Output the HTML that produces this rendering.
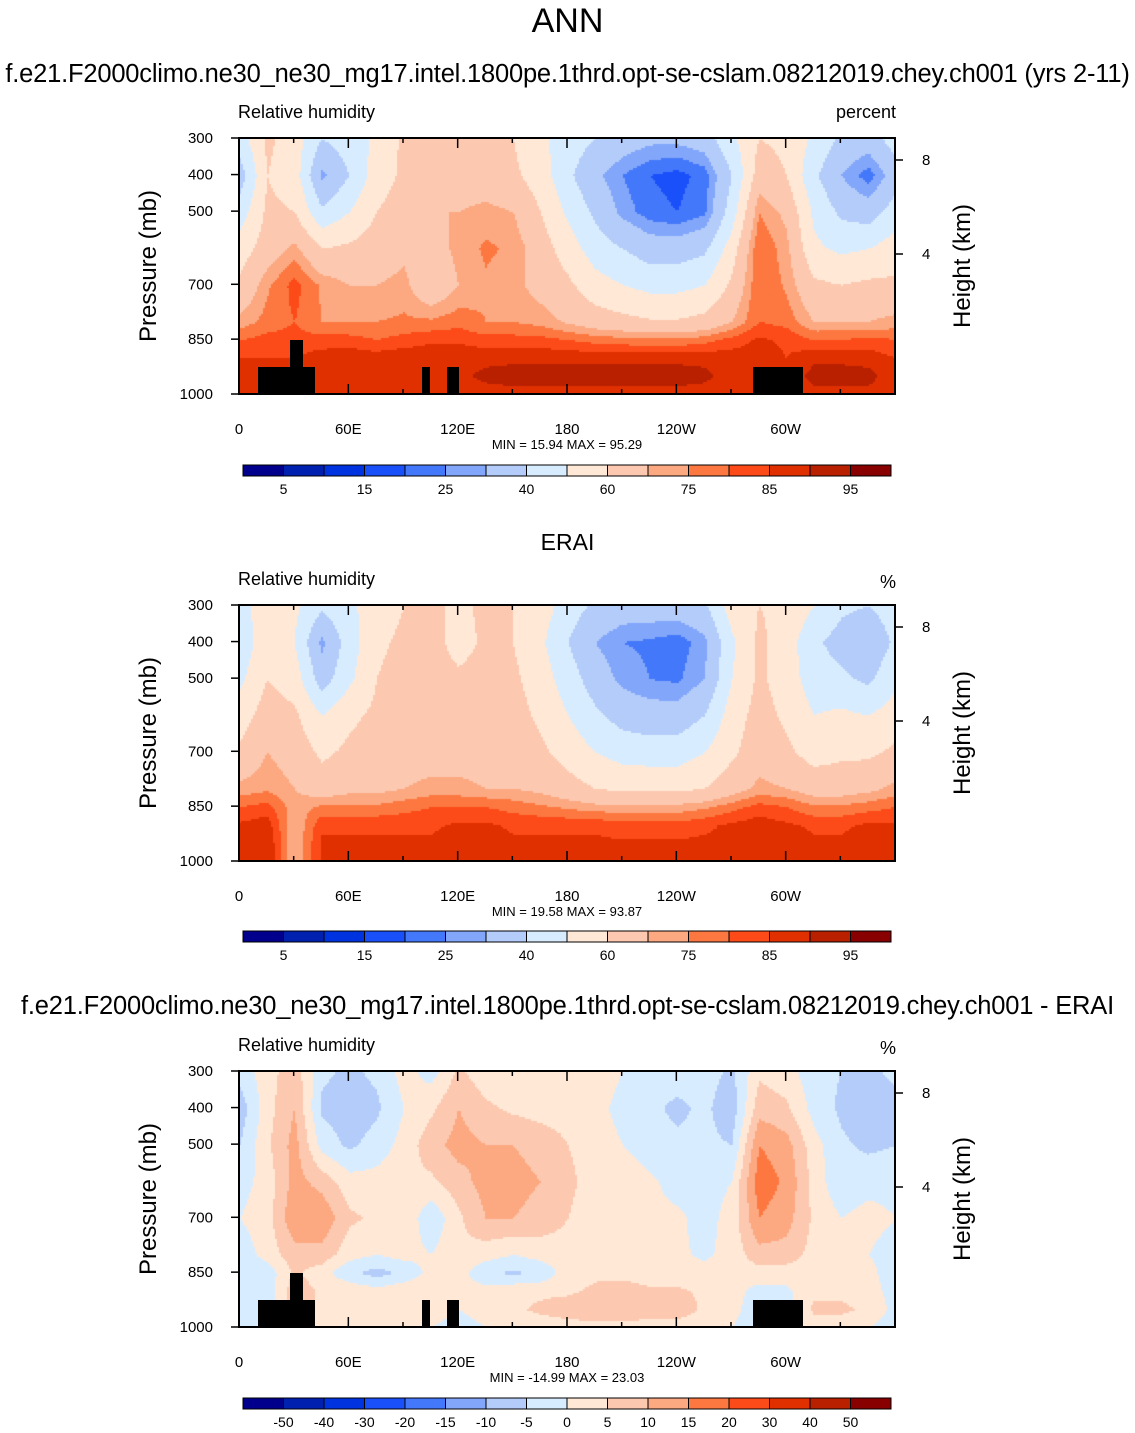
<!DOCTYPE html>
<html><head><meta charset="utf-8">
<style>
body{margin:0;background:#fff;font-family:"Liberation Sans",sans-serif;}
#root{position:relative;width:1135px;height:1433px;overflow:hidden;}
.t{position:absolute;white-space:nowrap;color:#000;}
canvas{position:absolute;}
</style></head>
<body>
<div id="root">
<div class="t" style="left:0;width:1135px;text-align:center;top:2px;font-size:34px">ANN</div>
<div class="t" style="left:0;width:1135px;text-align:center;top:60px;font-size:25.5px;letter-spacing:-0.2px">f.e21.F2000climo.ne30_ne30_mg17.intel.1800pe.1thrd.opt-se-cslam.08212019.chey.ch001 (yrs 2-11)</div>
<div class="t" style="left:0;width:1135px;text-align:center;top:529px;font-size:23px">ERAI</div>
<div class="t" style="left:0;width:1135px;text-align:center;top:992px;font-size:25.5px;letter-spacing:-0.2px">f.e21.F2000climo.ne30_ne30_mg17.intel.1800pe.1thrd.opt-se-cslam.08212019.chey.ch001 - ERAI</div>
<svg id="svg" width="1135" height="1433" style="position:absolute;left:0;top:0"></svg>
</div>
<script>
// ---- data ----
const lons=[0,15,30,45,60,75,90,105,120,135,150,165,180,195,210,225,240,255,270,285,300,315,330,345,360];
const plevs=[300,400,500,600,700,800,850,900,950,1000];
const levelsRH=[5,10,15,20,25,30,40,50,60,70,75,80,85,90,95];
const levelsDiff=[-50,-40,-30,-20,-15,-10,-5,0,5,10,15,20,30,40,50];
const labelsRH=["5","15","25","40","60","75","85","95"];
const labelsDiff=["-50","-40","-30","-20","-15","-10","-5","0","5","10","15","20","30","40","50"];
const colors=["#00008c","#0020b0","#0033e0","#1a50fa","#4478fa","#82a6fa","#b4ccfa","#d8ecff","#ffe8d6","#fcc8b0","#fca880","#fc7840","#fc4a18","#e03000","#b82000","#880000"];
// rows = pressure levels, columns = longitudes
const modelRH=[
[45,62,55,40,45,52,62,60,62,62,60,52,45,40,35,32,32,35,48,60,58,48,38,35,45],
[35,60,55,28,40,55,62,65,65,65,62,55,42,32,25,20,18,22,40,65,60,42,30,22,35],
[45,62,60,42,50,60,65,70,70,72,70,60,48,38,28,22,20,24,45,75,68,48,38,35,45],
[55,65,72,60,62,65,68,66,72,76,74,65,55,45,40,35,35,38,55,80,72,52,48,50,55],
[62,74,82,74,70,70,72,62,70,74,72,67,62,54,50,47,47,50,62,80,74,62,60,62,62],
[72,77,80,75,75,75,76,76,78,75,75,73,69,65,63,61,61,63,70,80,78,70,70,70,72],
[80,82,82,82,82,80,82,84,84,82,82,82,80,78,77,76,76,78,82,86,84,80,80,82,80],
[85,85,85,88,89,88,89,89,89,89,89,89,89,89,89,89,89,89,88,88,85,89,89,88,85],
[86,86,86,90,90,89,89,89,89,91,92,92,92,92,92,92,92,91,88,88,86,92,92,92,86],
[85,85,85,88,88,86,86,86,86,88,88,88,88,88,88,88,88,88,86,86,85,88,88,88,85]];
const eraRH=[
[45,58,52,42,48,55,60,62,58,62,60,55,45,38,35,35,35,38,55,60,58,50,42,40,45],
[42,58,50,28,45,58,62,64,56,62,60,52,40,30,25,24,22,28,48,62,55,42,36,32,42],
[48,60,55,35,48,60,64,65,62,64,62,55,45,35,28,25,24,30,50,62,55,45,42,38,48],
[55,65,62,50,58,62,65,66,66,66,64,58,50,42,36,34,34,40,55,64,58,50,52,50,55],
[62,70,66,58,62,64,66,66,66,66,66,62,56,50,46,45,45,50,58,66,62,56,58,58,62],
[72,74,70,65,68,68,70,72,72,70,70,68,64,60,58,58,58,60,66,72,70,66,66,68,72],
[80,82,72,76,76,76,78,80,80,80,78,76,74,72,72,72,72,74,78,82,80,76,76,78,80],
[86,88,70,84,84,84,84,84,86,86,84,84,84,84,82,82,82,84,86,88,86,84,84,86,86],
[88,90,70,86,86,86,86,86,88,88,86,86,86,86,86,86,86,86,86,90,88,86,86,88,88],
[88,90,70,86,86,86,86,86,88,88,86,86,86,86,86,86,86,86,86,90,88,86,86,88,88]];
const diffRH=[
[-3,3,8,-4,-6,-4,2,-2,6,2,2,0,2,3,0,-3,-3,-3,-6,4,2,-3,-5,-7,-3],
[-8,3,10,-6,-8,-6,0,4,10,6,4,3,3,2,-2,-4,-6,-4,-8,8,6,-2,-6,-10,-8],
[-5,4,12,-2,-6,-3,2,8,12,10,10,8,5,3,0,-3,-4,-4,-5,15,12,2,-4,-6,-5],
[-2,2,12,8,2,2,4,4,8,12,12,10,6,3,4,1,-2,-2,0,18,14,3,-4,-2,-2],
[0,3,14,14,6,4,4,-4,4,10,10,8,5,3,2,1,1,-2,2,15,12,4,0,2,0],
[-3,2,8,8,2,0,2,0,4,2,0,2,3,2,2,1,1,-1,2,8,8,3,2,0,-3],
[-4,-3,6,2,-4,-7,-4,2,2,-4,-6,-4,3,4,3,2,2,2,2,3,2,2,2,2,-4],
[-2,-3,8,4,4,2,4,4,2,2,4,4,4,6,8,6,6,4,2,-2,-1,4,4,2,-2],
[-2,-4,8,4,4,2,2,2,0,2,4,6,8,10,10,8,8,4,2,-4,-2,6,6,4,-2],
[-3,-5,8,2,2,0,0,0,-2,0,2,2,2,2,2,2,2,2,0,-4,-3,2,2,0,-3]];

// ---- drawing ----
const X0=239,X1=895;
const panels=[{top:138,data:modelRH,levels:levelsRH,labels:labelsRH,minmax:"MIN =  15.94   MAX =  95.29",unit:"percent",cb:465,topo:true},
{top:605,data:eraRH,levels:levelsRH,labels:labelsRH,minmax:"MIN =  19.58   MAX =  93.87",unit:"%",cb:931,topo:false},
{top:1071,data:diffRH,levels:levelsDiff,labels:labelsDiff,minmax:"MIN = -14.99   MAX =  23.03",unit:"%",cb:1398,topo:true}];
const H=256;
const svg=document.getElementById('svg');
const root=document.getElementById('root');
const NS="http://www.w3.org/2000/svg";
function el(tag,attrs,parent){const e=document.createElementNS(NS,tag);for(const k in attrs)e.setAttribute(k,attrs[k]);(parent||svg).appendChild(e);return e;}
function xOf(lon){return X0+(lon/360)*(X1-X0);}
function colorFor(v,levels){let i=0;while(i<levels.length&&v>=levels[i])i++;return colors[i];}
function sample(data,lon,p){
  let i=Math.min(Math.floor(lon/15),23);const fx=(lon-lons[i])/15;
  let j=0;while(j<plevs.length-2&&p>plevs[j+1])j++;
  const fy=(p-plevs[j])/(plevs[j+1]-plevs[j]);
  const a=data[j][i],b=data[j][i+1],c=data[j+1][i],d=data[j+1][i+1];
  return a*(1-fx)*(1-fy)+b*fx*(1-fy)+c*(1-fx)*fy+d*fx*fy;
}
panels.forEach((P,k)=>{
  const yOf=p=>P.top+(p-300)/700*H;
  const cv=document.createElement('canvas');
  cv.width=X1-X0;cv.height=H;cv.style.left=X0+'px';cv.style.top=P.top+'px';
  
  
  root.insertBefore(cv,svg);
  const ctx=cv.getContext('2d');
  for(let y=0;y<H;y+=2){for(let x=0;x<cv.width;x+=2){
    const lon=x/cv.width*360,p=300+y/H*700;
    ctx.fillStyle=colorFor(sample(P.data,lon,p),P.levels);ctx.fillRect(x,y,2,2);}}
  const g=el('g',{});
  
  
  if(P.topo){
    const dy=P.top-138;
    [[258,367,57,27],[290,340,13,27],[422,367,8,27],[447,367,12,27],[753,367,50,27]].forEach(r=>{
      const b=el('rect',{x:r[0],y:r[1]+dy,width:r[2],height:r[3],fill:'#000'},g);
      
      });
  }
  el('rect',{x:X0,y:P.top,width:X1-X0,height:H,fill:'none',stroke:'#000','stroke-width':2},g);
  const xl=["0","60E","120E","180","120W","60W"];
  for(let lon=0;lon<=360;lon+=30){
    const x=xOf(lon),maj=lon%60===0;
    el('line',{x1:x,x2:x,y1:P.top+H,y2:P.top+H-(maj?10:5),stroke:'#000','stroke-width':1.5},g);
    el('line',{x1:x,x2:x,y1:P.top,y2:P.top+(maj?10:5),stroke:'#000','stroke-width':1.5},g);
    if(maj&&lon<360){const t=el('text',{x:x,y:P.top+H+40,'font-size':15,'text-anchor':'middle'},g);t.textContent=xl[lon/60];
      
      }
  }
  [300,400,500,700,850,1000].forEach(p=>{
    const y=yOf(p);
    el('line',{x1:X0,x2:X0-8,y1:y,y2:y,stroke:'#000','stroke-width':1.5},g);
    const t=el('text',{x:213,y:y+5,'font-size':15,'text-anchor':'end'},g);t.textContent=p;
    
    
  });
  [[8,22],[4,116]].forEach(h=>{
    const y=P.top+h[1];
    el('line',{x1:X1,x2:X1+8,y1:y,y2:y,stroke:'#000','stroke-width':1.5},g);
    const t=el('text',{x:922,y:y+5,'font-size':15},g);t.textContent=h[0];
    
    
  });
  let t=el('text',{x:156,y:P.top+H/2,'font-size':24,'text-anchor':'middle',transform:`rotate(-90 156 ${P.top+H/2})`},g);t.textContent='Pressure (mb)';
  
  
  t=el('text',{x:970,y:P.top+H/2,'font-size':24,'text-anchor':'middle',transform:`rotate(-90 970 ${P.top+H/2})`},g);t.textContent='Height (km)';
  
  
  t=el('text',{x:238,y:P.top-20,'font-size':18},g);t.textContent='Relative humidity';
  
  
  t=el('text',{x:896,y:P.top-(k?17:20),'font-size':18,'text-anchor':'end'},g);t.textContent=P.unit;
  
  
  t=el('text',{x:567,y:P.top+H+55,'font-size':13,'text-anchor':'middle'},g);t.textContent=P.minmax;
  
  
  const cb=el('g',{},g);
  
  
  const bw=(891-243)/16;
  colors.forEach((c,i)=>{
    const r=el('rect',{x:243+i*bw,y:P.cb,width:bw,height:11,fill:c,stroke:'#000','stroke-width':1},cb);
    
    
  });
  const step=P.labels.length===8?2:1;
  P.labels.forEach((l,i)=>{
    const bi=step===2?1+2*i:1+i;
    const tt=el('text',{x:243+bi*bw,y:P.cb+29,'font-size':14,'text-anchor':'middle'},cb);tt.textContent=l;
    
    
  });
});
</script>
</body></html>
